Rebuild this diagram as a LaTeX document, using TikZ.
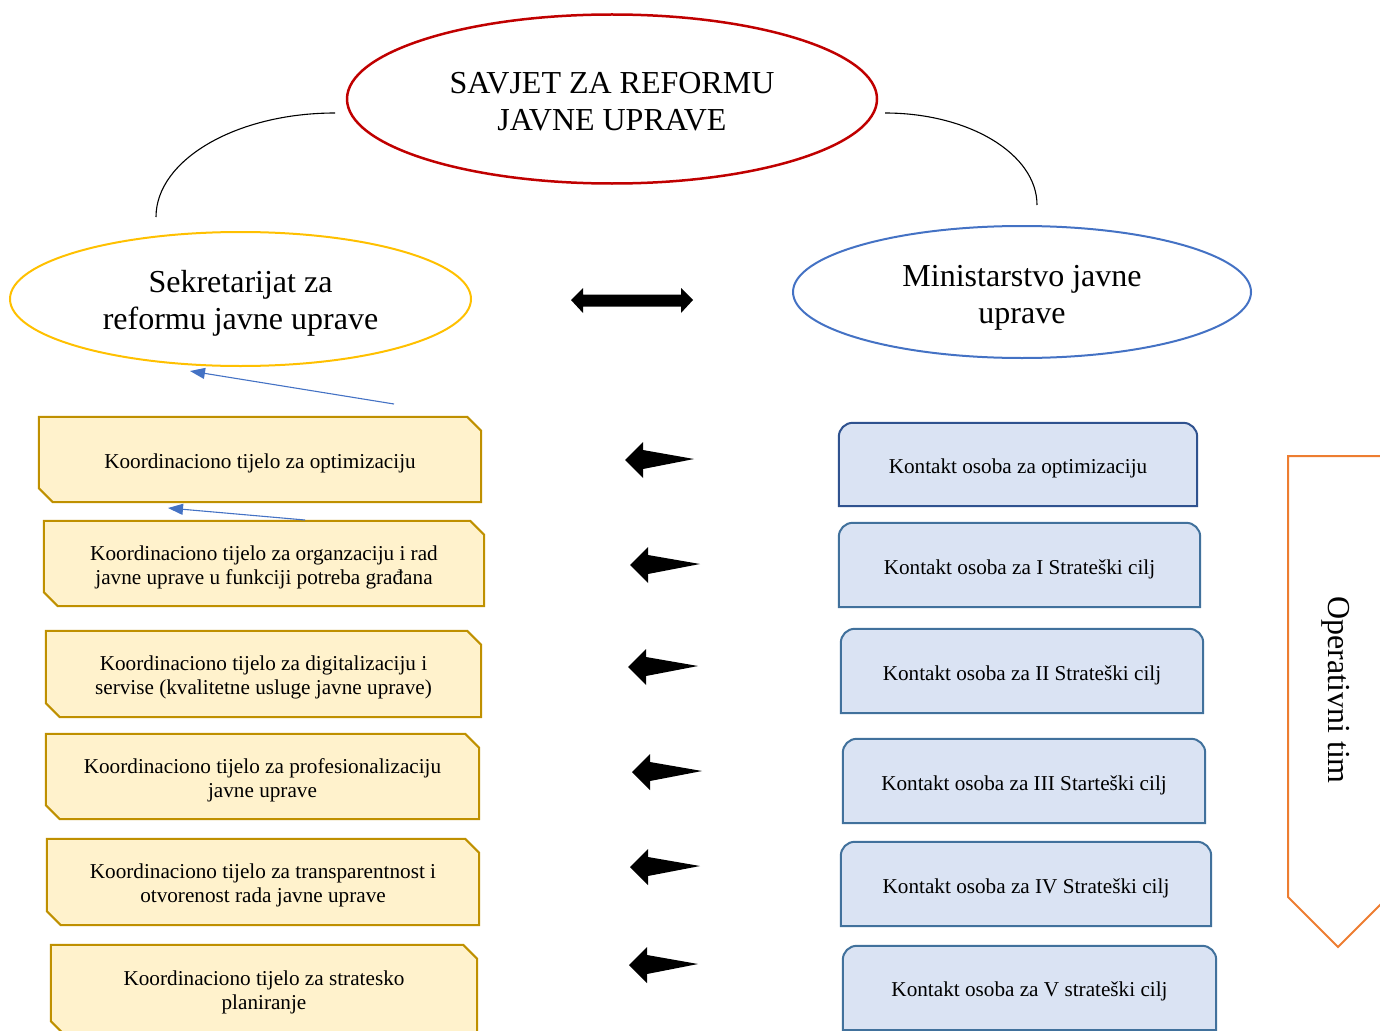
\documentclass[tikz,border=0pt]{standalone}
\usepackage{fontspec}
\setmainfont{Liberation Serif}
\usetikzlibrary{shapes.geometric,arrows.meta,backgrounds}
\definecolor{savred}{HTML}{C00000}
\definecolor{sekgold}{HTML}{FFC000}
\definecolor{minblue}{HTML}{4472C4}
\definecolor{yfill}{HTML}{FFF2CC}
\definecolor{ydraw}{HTML}{BF9000}
\definecolor{bfill}{HTML}{DAE3F3}
\definecolor{bdraw}{HTML}{41719C}
\definecolor{bdrawdark}{HTML}{2F528F}
\definecolor{orng}{HTML}{ED7D31}
\begin{document}
\begin{tikzpicture}[x=1pt,y=-1pt,
  bigtxt/.style={font=\fontsize{32}{37}\selectfont, align=center},
  ell/.style={ellipse, inner sep=0pt},
  boxtxt/.style={font=\fontsize{21.2}{24}\selectfont, align=center, inner sep=0pt},
  frame/.style={inner sep=0pt},
  yshape/.style={fill=yfill, draw=ydraw, line width=2pt},
  bshape/.style={fill=bfill, draw=bdraw, line width=2pt},
  blockarrow/.style={fill=black, draw=none},
  link/.style={draw=minblue, line width=1.1pt, -{Triangle[length=15pt,width=11pt]}},
  curve/.style={draw=black, line width=1.1pt}]
\clip (0,0) rectangle (1380,1030);
\useasboundingbox (0,0) rectangle (1380,1030);

% ellipses
\node[ell, draw=savred, line width=2.5pt, minimum width=530pt, minimum height=169pt] (savjet) at (612,99) {};
\node[bigtxt] (savjett) at ([yshift=-2.5pt]savjet.center) {SAVJET ZA REFORMU\\JAVNE UPRAVE};
\node[ell, draw=sekgold, line width=2pt, minimum width=461pt, minimum height=134pt] (sek) at (240.5,299) {};
\node[bigtxt] (sekt) at ([yshift=-4.5pt]sek.center) {Sekretarijat za\\reformu javne uprave};
\node[ell, draw=minblue, line width=2pt, minimum width=458pt, minimum height=132pt] (min) at (1022,292) {};
\node[bigtxt] (mint) at ([yshift=-6pt]min.center) {Ministarstvo javne\\uprave};

% curves
\coordinate (cl1) at (335,113);
\coordinate (cl2) at (156,217);
\coordinate (cr1) at (885,113);
\coordinate (cr2) at (1037,205);
\draw[curve] (cl1) .. controls (236,113) and (156,160) .. (cl2);
\draw[curve] (cr1) .. controls (969,113) and (1037,154) .. (cr2);

% double arrow
\fill[blockarrow] (571,300) -- (583,288) -- (583,294.5) -- (681,294.5) -- (681,288) -- (693,300) -- (681,313) -- (681,306.5) -- (583,306.5) -- (583,313) -- cycle;

% yellow box frames
\node[frame, minimum width=442pt, minimum height=85pt] (k1) at (260,459.5) {};
\node[frame, minimum width=440pt, minimum height=85pt] (k2) at (264,563.5) {};
\node[frame, minimum width=435pt, minimum height=86pt] (k3) at (263.5,674) {};
\node[frame, minimum width=433pt, minimum height=85pt] (k4) at (262.5,776.5) {};
\node[frame, minimum width=432pt, minimum height=86pt] (k5) at (263,882) {};
\node[frame, minimum width=426pt, minimum height=90pt] (k6) at (264,990) {};

% blue box frames
\node[frame, minimum width=358pt, minimum height=83pt] (c1) at (1018,464.5) {};
\node[frame, minimum width=361pt, minimum height=84pt] (c2) at (1019.5,565) {};
\node[frame, minimum width=362pt, minimum height=84pt] (c3) at (1022,671) {};
\node[frame, minimum width=362pt, minimum height=84pt] (c4) at (1024,781) {};
\node[frame, minimum width=370pt, minimum height=84pt] (c5) at (1026,884) {};
\node[frame, minimum width=373pt, minimum height=84pt] (c6) at (1029.5,988) {};

\foreach \i in {1,...,6} {
  \draw[yshape] (k\i.north west) -- ([xshift=-14pt]k\i.north east) -- ([yshift=-14pt]k\i.north east) -- (k\i.south east) -- ([xshift=14pt]k\i.south west) -- ([yshift=14pt]k\i.south west) -- cycle;
}
\draw[bshape, draw=bdrawdark] (c1.south west) -- ([yshift=-14pt]c1.north west) arc[start angle=180, end angle=90, radius=14pt] -- ([xshift=-14pt]c1.north east) arc[start angle=90, end angle=0, radius=14pt] -- (c1.south east) -- cycle;
\foreach \i in {2,...,6} {
  \draw[bshape] (c\i.south west) -- ([yshift=-14pt]c\i.north west) arc[start angle=180, end angle=90, radius=14pt] -- ([xshift=-14pt]c\i.north east) arc[start angle=90, end angle=0, radius=14pt] -- (c\i.south east) -- cycle;
}

% yellow box texts
\node[boxtxt] (k1t) at ([yshift=-3.5pt]k1.center) {Koordinaciono tijelo za optimizaciju};
\node[boxtxt] (k2t) at ([yshift=-3.5pt]k2.center) {Koordinaciono tijelo za organzaciju i rad\\javne uprave u funkciji potreba građana};
\node[boxtxt] (k3t) at ([yshift=-3.5pt]k3.center) {Koordinaciono tijelo za digitalizaciju i\\servise (kvalitetne usluge javne uprave)};
\node[boxtxt] (k4t) at ([yshift=-3.5pt]k4.center) {Koordinaciono tijelo za profesionalizaciju\\javne uprave};
\node[boxtxt] (k5t) at ([yshift=-3.5pt]k5.center) {Koordinaciono tijelo za transparentnost i\\otvorenost rada javne uprave};
\node[boxtxt] (k6t) at ([yshift=-2.5pt]k6.center) {Koordinaciono tijelo za stratesko\\planiranje};

% blue box texts
\node[boxtxt] (c1t) at ([yshift=-4pt]c1.center) {Kontakt osoba za optimizaciju};
\node[boxtxt] (c2t) at ([yshift=-4pt]c2.center) {Kontakt osoba za I Strateški cilj};
\node[boxtxt] (c3t) at ([yshift=-4pt]c3.center) {Kontakt osoba za II Strateški cilj};
\node[boxtxt] (c4t) at ([yshift=-4pt]c4.center) {Kontakt osoba za III Starteški cilj};
\node[boxtxt] (c5t) at ([yshift=-4pt]c5.center) {Kontakt osoba za IV Strateški cilj};
\node[boxtxt] (c6t) at ([yshift=-3pt]c6.center) {Kontakt osoba za V strateški cilj};

% left block arrows
\foreach \tx/\ty/\ex in {625/460/694, 630/565/700, 628/667/698, 632/772/702, 630/867/700, 629/965/698} {
  \fill[blockarrow] (\tx,\ty) -- (\tx+18,\ty-18) -- (\tx+18,\ty-10) -- (\ex,\ty-1) -- (\tx+18,\ty+9) -- (\tx+18,\ty+18) -- cycle;
}

% thin blue links
\coordinate (a1s) at (394,404);
\coordinate (a1e) at (190,371);
\coordinate (a2s) at (305,520);
\coordinate (a2e) at (168,508);
\draw[link] (a1s) -- (a1e);
\draw[link] (a2s) -- (a2e);

% operativni tim
\draw[draw=orng, line width=2pt] (1392,456) -- (1288,456) -- (1288,897) -- (1338,947) -- (1392,893);
\node[bigtxt, rotate=-90] (op) at (1336,690) {Operativni tim};
\end{tikzpicture}
\end{document}
